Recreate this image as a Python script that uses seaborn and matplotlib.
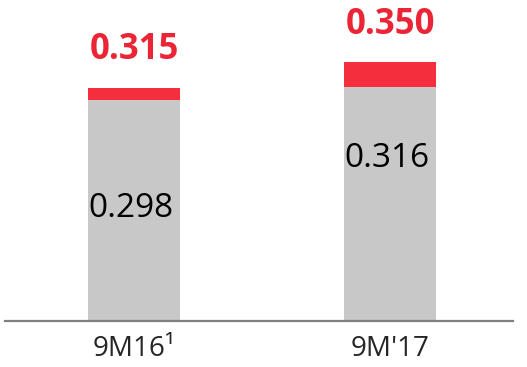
import pandas as pd
import matplotlib.pyplot as plt
import seaborn as sns

# data
periods = ["9M16¹", "9M'17"]
base_values = [0.298, 0.316]
total_values = [0.315, 0.350]

GRAY = "#C8C8C8"
RED_BAR = "#F52E3E"
RED_TXT = "#EC2536"

sns.set_style("white")
plt.rcParams["font.family"] = ["Open Sans", "DejaVu Sans"]

df = pd.DataFrame({"period": periods, "base": base_values, "total": total_values})

fig = plt.figure(figsize=(5.27, 3.67), dpi=100)
ax = fig.add_axes([5 / 527, 46 / 367, 508 / 527, 321 / 367])

# red total bar behind, gray base in front
sns.barplot(data=df, x="period", y="total", color=RED_BAR, width=0.36,
            saturation=1, linewidth=0, ax=ax)
sns.barplot(data=df, x="period", y="base", color=GRAY, width=0.36,
            saturation=1, linewidth=0, ax=ax)

ax.set_xlim(-0.504, 1.48)
ax.set_ylim(0, 0.4338)

# total labels above
for i, v in enumerate(total_values):
    ax.annotate(f"{v:.3f}", (i, v), xytext=(0, 27), textcoords="offset points",
                ha="center", va="center", fontsize=25, fontweight="bold",
                color=RED_TXT)

# base labels inside gray bars
inner_offsets = [-78, -51]
for i, v in enumerate(base_values):
    ax.annotate(f"{v:.3f}", (i, v), xytext=(-2, inner_offsets[i]),
                textcoords="offset points", ha="center", va="center",
                fontsize=24, color="black")

for s in ["top", "right", "left"]:
    ax.spines[s].set_visible(False)
ax.spines["bottom"].set_color("#808080")
ax.spines["bottom"].set_linewidth(1.6)
ax.set_yticks([])
ax.set_xlabel("")
ax.set_ylabel("")
ax.tick_params(axis="x", length=0, pad=10, labelsize=20)

fig.savefig("out.png", dpi=100)
